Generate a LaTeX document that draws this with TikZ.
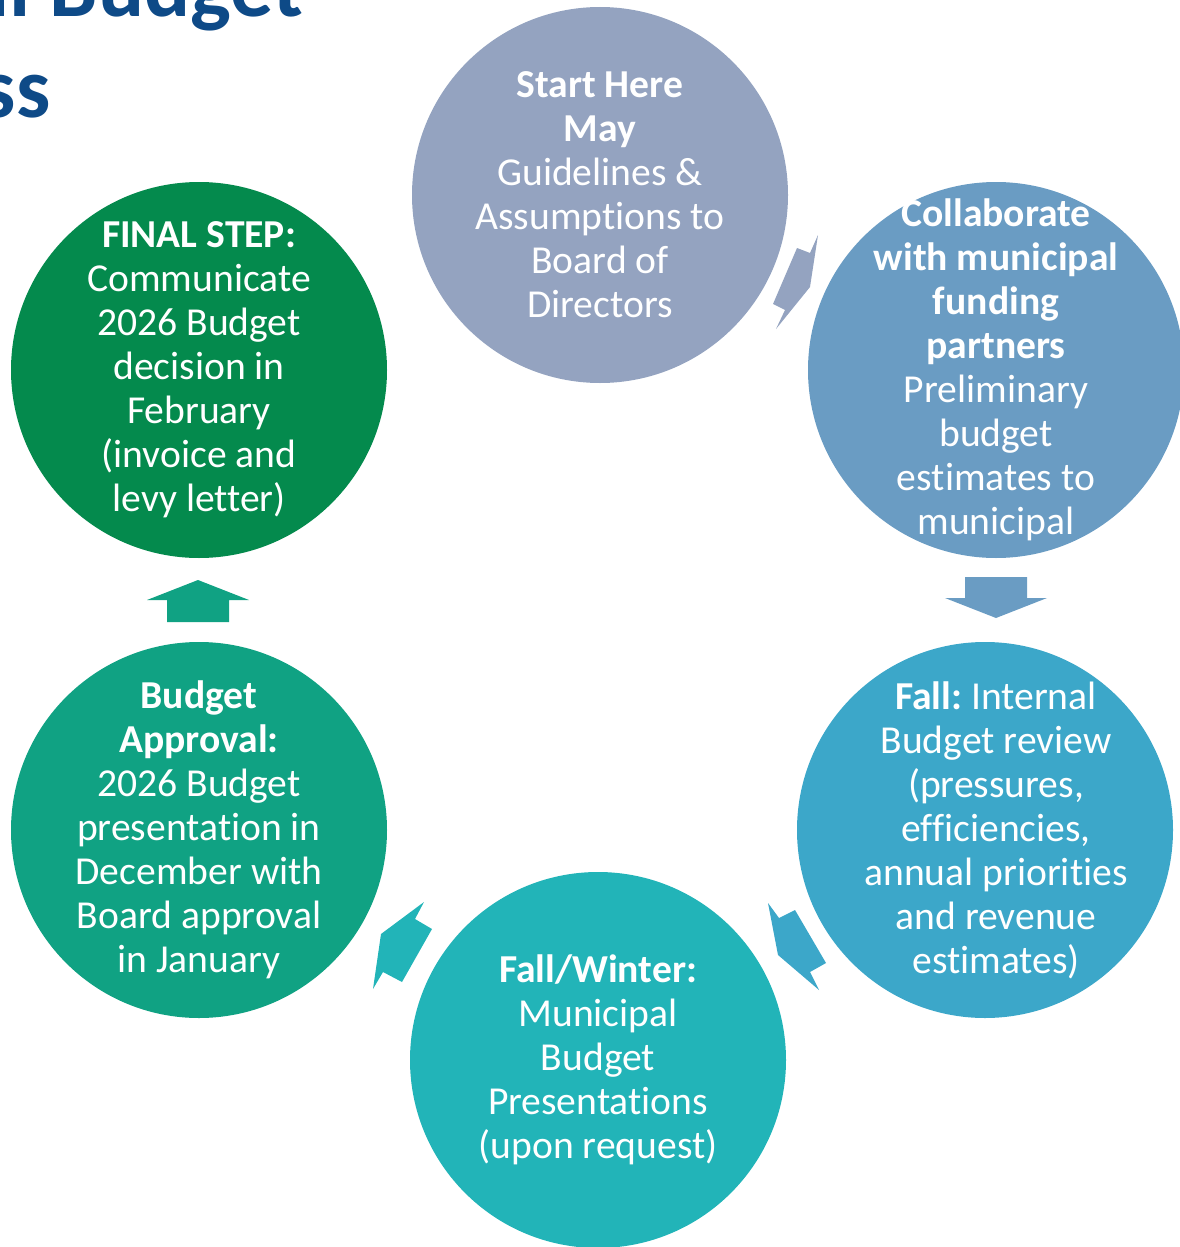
\documentclass[tikz,border=0pt]{standalone}
\usepackage{fontspec}
\setmainfont{Carlito}[Ligatures=NoCommon]
\usetikzlibrary{positioning}

\definecolor{titleblue}{RGB}{14,74,135}
\definecolor{stepA}{RGB}{148,163,192}
\definecolor{stepB}{RGB}{106,156,195}
\definecolor{stepC}{RGB}{60,167,201}
\definecolor{stepD}{RGB}{34,180,184}
\definecolor{stepE}{RGB}{16,162,131}
\definecolor{stepF}{RGB}{4,138,77}

\tikzset{
  disc/.style={circle, draw=none, minimum size=188pt, inner sep=0pt},
  disctext/.style={text=white, align=center, inner sep=0pt,
    font=\fontsize{19.8}{22}\selectfont},
  titletext/.style={text=titleblue, inner sep=0pt,
    font=\fontsize{43}{50}\selectfont\bfseries}
}

\begin{document}
\begin{tikzpicture}[x=0.5pt, y=-0.5pt]
      \useasboundingbox (0,0) rectangle (1179,1247);

      % Title
      \node[titletext, anchor=base east] (title) at (303,17) {Annual Budget};
      \node[titletext, anchor=base east] (title2) at (51,118) {Process};

      % Circles
      \node[disc, fill=stepA] (start) at (600,195) {};
      \node[disc, fill=stepB] (collab) at (996,370) {};
      \node[disc, fill=stepC] (fall) at (985,830) {};
      \node[disc, fill=stepD] (winter) at (598,1060) {};
      \node[disc, fill=stepE] (approval) at (199,830) {};
      \node[disc, fill=stepF] (final) at (199,370) {};

      % Texts
      \node[disctext] at (start) {\textbf{Start Here}\\\textbf{May}\\Guidelines \&\\Assumptions to\\Board of\\Directors};
      \node[disctext] at (collab) {\textbf{Collaborate}\\\textbf{with municipal}\\\textbf{funding}\\\textbf{partners}\\Preliminary\\budget\\estimates to\\municipal};
      \node[disctext] at ([xshift=5.5pt]fall.center) {\textbf{Fall:}~Internal\\Budget review\\(pressures,\\efficiencies,\\annual priorities\\and revenue\\estimates)};
      \node[disctext] at (winter) {\textbf{Fall/Winter:}\\Municipal\\Budget\\Presentations\\(upon request)};
      \node[disctext] at (approval) {\textbf{Budget}\\\textbf{Approval:}\\2026 Budget\\presentation in\\December with\\Board approval\\in January};
      \node[disctext] at (final) {\textbf{FINAL STEP:}\\Communicate\\2026 Budget\\decision in\\February\\(invoice and\\levy letter)};

      % Arrows
      \fill[stepA] (818,235) -- (810,253) -- (797,248) -- (773,304) -- (785,310) -- (776,329) -- (810,287) -- cycle;
      \fill[stepB] (965,577) -- (1027,577) -- (1027,598) -- (1047,598) -- (996,618) -- (945,598) -- (965,598) -- cycle;
      \fill[stepC] (768,903) -- (779,918) -- (795,910) -- (826,963) -- (810,972) -- (819,990) -- (778,955) -- cycle;
      \fill[stepD] (424,902) -- (415,919) -- (432,929) -- (402,982) -- (383,972) -- (373,989) -- (381,934) -- cycle;
      \fill[stepE] (198,580) -- (249,600) -- (229,600) -- (229,622) -- (167,622) -- (167,600) -- (147,600) -- cycle;

\end{tikzpicture}
\end{document}
